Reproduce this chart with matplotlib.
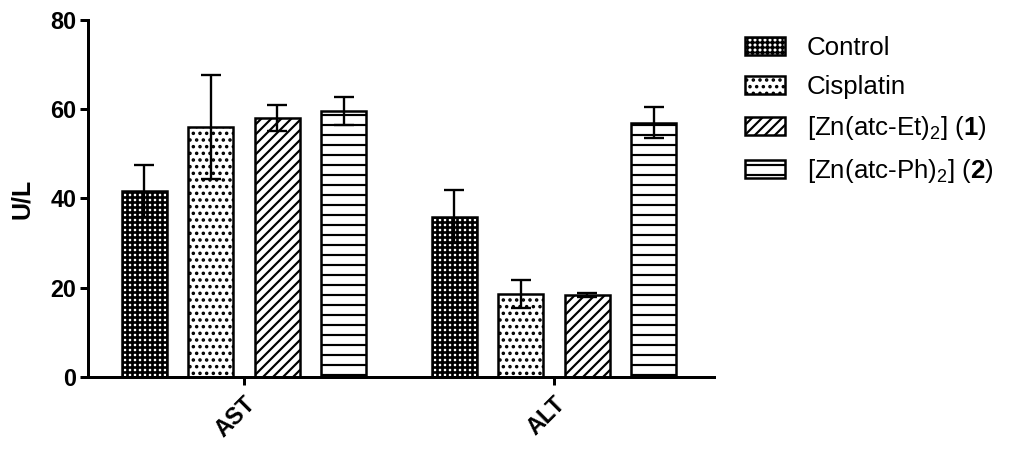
import matplotlib
matplotlib.use("Agg")
from matplotlib import pyplot as plt
import numpy as np

# data
groups = ['AST', 'ALT']
series = ['Control', 'Cisplatin', r'[Zn(atc-Et)$_2$] ($\mathbf{1}$)', r'[Zn(atc-Ph)$_2$] ($\mathbf{2}$)']
means = [[41.7, 35.9],
         [56.0, 18.6],
         [58.1, 18.4],
         [59.6, 57.0]]
errs = [[5.9, 6.0],
        [11.7, 3.1],
        [2.9, 0.5],
        [3.2, 3.5]]
hatches = ['++++', '...', '////', '--']

plt.rcParams['font.family'] = ['Liberation Sans', 'DejaVu Sans']
plt.rcParams['mathtext.fontset'] = 'custom'
plt.rcParams['mathtext.rm'] = 'Liberation Sans'
plt.rcParams['mathtext.bf'] = 'Liberation Sans:bold'
plt.rcParams['hatch.linewidth'] = 1.3

dpi = 120
fig = plt.figure(figsize=(1024 / dpi, 453 / dpi), dpi=dpi)
ax = fig.add_axes([0.086, 0.168, 0.611, 0.788])

x = np.arange(len(groups))
pitch = 0.2145
width = 0.145
for i, name in enumerate(series):
    pos = x + (i - 1.5) * pitch
    bars = ax.bar(pos, means[i], width, color='white', edgecolor='black',
                  linewidth=1.5, hatch=hatches[i], label=name, zorder=2)
    if i == 0:
        for b in bars:
            if hasattr(b, 'set_hatch_linewidth'):
                b.set_hatch_linewidth(1.6)
    ax.errorbar(pos, means[i], yerr=errs[i], fmt='none', ecolor='black',
                elinewidth=1.4, capsize=6, capthick=1.4, zorder=3)

ax.set_xlim(-0.503, 1.516)
ax.set_ylim(0, 80)
ax.set_yticks([0, 20, 40, 60, 80])
ax.set_xticks(x)
ax.set_xticklabels(groups, rotation=45, ha='right', rotation_mode='anchor',
                   fontsize=14, fontweight='bold')
for lab in ax.get_yticklabels():
    lab.set_fontsize(14)
    lab.set_fontweight('bold')
ax.set_ylabel('U/L', fontsize=15, fontweight='bold', labelpad=10)

ax.spines['top'].set_visible(False)
ax.spines['right'].set_visible(False)
ax.spines['left'].set_linewidth(1.8)
ax.spines['bottom'].set_linewidth(1.8)
ax.tick_params(axis='both', width=1.8, length=5, direction='out')
ax.tick_params(axis='y', pad=2)
ax.tick_params(axis='x', pad=4)

ax.legend(loc='upper left', bbox_to_anchor=(0.717, 0.943), bbox_transform=fig.transFigure,
          frameon=False, fontsize=15.5, handlelength=1.55, handleheight=0.68,
          labelspacing=0.58, handletextpad=0.85, borderaxespad=0)

plt.savefig('out.png', dpi=dpi)
